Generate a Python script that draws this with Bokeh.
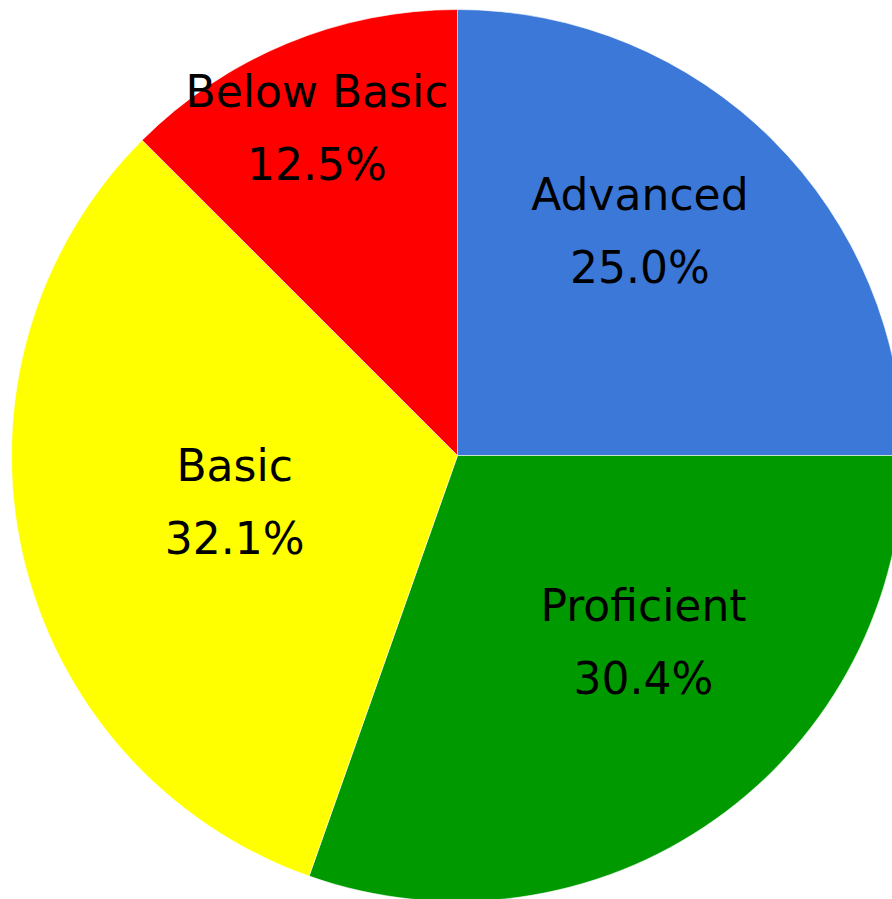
import math
from bokeh.plotting import figure
from bokeh.models import ColumnDataSource, Range1d
from bokeh.core.properties import value
from bokeh.embed import file_html
from bokeh.resources import INLINE

# ---- data ----
categories = ["Advanced", "Proficient", "Basic", "Below Basic"]
percents = [25.0, 30.4, 32.1, 12.5]
colors = ["#3c78d8", "#009900", "#ffff00", "#ff0000"]

# ---- layout (label placement, in units of the pie radius) ----
label_radius = [0.65, 0.59, 0.51, 0.80]
label_angle_shift_deg = [6.0, 9.7, -1.2, 0.7]

total = sum(percents)
starts, ends, lx, ly, names, pcts = [], [], [], [], [], []
cum = 0.0
for i, (c, p) in enumerate(zip(categories, percents)):
    a0 = math.pi / 2 - 2 * math.pi * cum / total
    cum += p
    a1 = math.pi / 2 - 2 * math.pi * cum / total
    starts.append(a0)
    ends.append(a1)
    mid = (a0 + a1) / 2 + math.radians(label_angle_shift_deg[i])
    lx.append(label_radius[i] * math.cos(mid))
    ly.append(label_radius[i] * math.sin(mid))
    names.append(c)
    pcts.append(f"{p:.1f}%")

src = ColumnDataSource(dict(start=starts, end=ends, color=colors,
                            lx=lx, ly=ly, name=names, pct=pcts))

W, H = 892, 899
scale = 446.0
cx, cy = 457.0, 455.0
p = figure(width=W, height=H, output_backend="svg", toolbar_location=None,
           x_range=Range1d(-cx / scale, (W - cx) / scale),
           y_range=Range1d(-(H - cy) / scale, cy / scale),
           min_border=0)
p.axis.visible = False
p.grid.visible = False
p.outline_line_color = None
p.background_fill_color = "white"

p.wedge(x=0, y=0, radius=1.0, start_angle="start", end_angle="end",
        direction="clock", fill_color="color", line_color="white",
        line_width=0.6, source=src)

p.text(x="lx", y="ly", text="name", source=src, text_align="center",
       text_baseline="middle", y_offset=-36, text_font=value("DejaVu Sans"),
       text_font_size="44px", text_color="black")
p.text(x="lx", y="ly", text="pct", source=src, text_align="center",
       text_baseline="middle", y_offset=37, text_font=value("DejaVu Sans"),
       text_font_size="44px", text_color="black")

open("out.html", "w").write(file_html(p, INLINE))
